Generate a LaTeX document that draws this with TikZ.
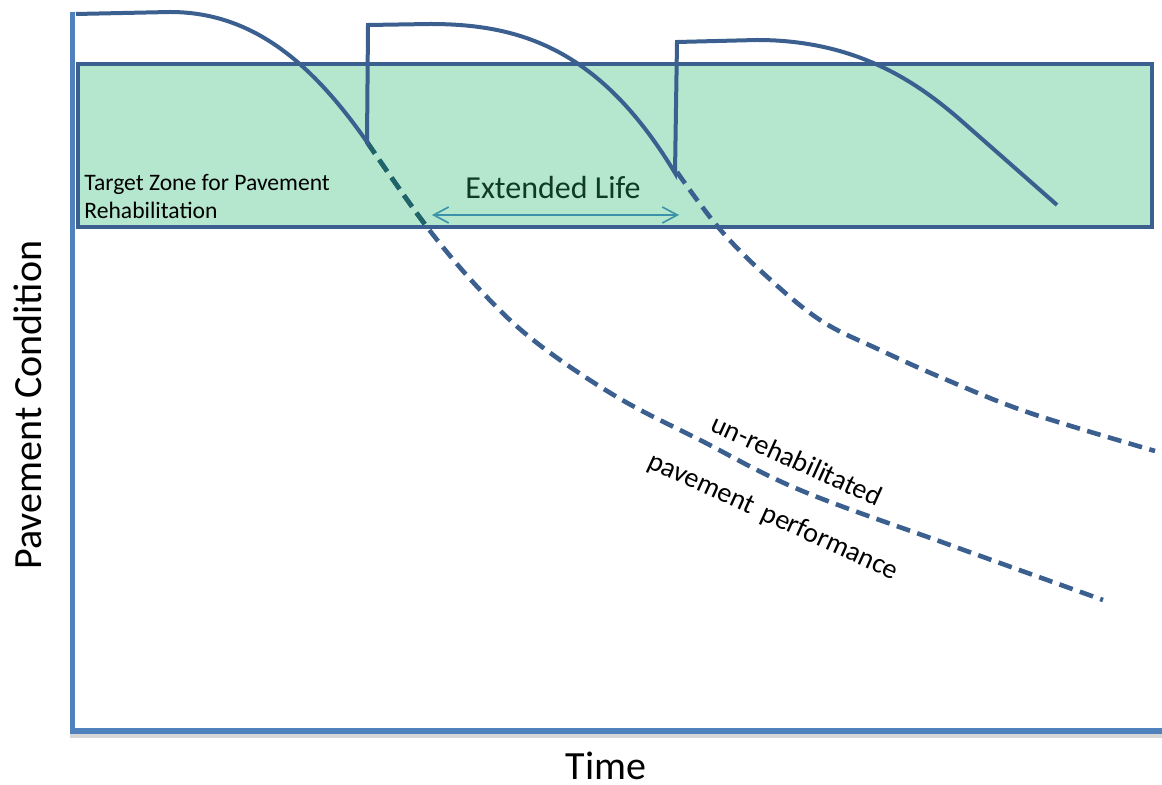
\documentclass[tikz,border=0pt]{standalone}
\usepackage{fontspec}
\setmainfont{Carlito}
\usetikzlibrary{arrows.meta}
\definecolor{axisblue}{HTML}{4F81BD}
\definecolor{lineblue}{HTML}{3B5F8E}
\definecolor{zonefill}{HTML}{B5E6CE}
\definecolor{dashteal}{HTML}{1F6468}
\definecolor{arrowteal}{HTML}{3A93A8}
\definecolor{lifegreen}{HTML}{0E3B22}
\tikzset{
  axisline/.style={draw=axisblue,line width=2.6pt},
  axisshadow/.style={draw=black!35,line width=2.6pt,opacity=0.45},
  perf/.style={draw=lineblue,line width=2pt,line join=miter},
  unrehab/.style={draw=lineblue,line width=2.3pt,dash pattern=on 7pt off 3.8pt},
  zonebox/.style={draw=lineblue,line width=2.2pt},
  lifearrow/.style={draw=arrowteal,line width=0.8pt,{Straight Barb[length=7.5pt,width=8pt]}-{Straight Barb[length=7.5pt,width=8pt]}},
  lbl/.style={inner sep=0pt,text=black}
}
\begin{document}
\begin{tikzpicture}[x=0.5pt,y=-0.5pt]
\useasboundingbox (0,0) rectangle (1162,785);
% zone fill
\fill[zonefill] (78,64) rectangle (1152,227);
% un-rehabilitated (dashed) curves
\def\dashone{plot[smooth,tension=0.6] coordinates {(367,142) (427,227) (483,293) (537,343) (617,397) (700,440) (800,490) (950,545) (1103,600)}}
\draw[unrehab] \dashone;
\begin{scope}
  \clip (78,64) rectangle (1152,227);
  \draw[unrehab,draw=dashteal] \dashone;
\end{scope}
\draw[unrehab] plot[smooth,tension=0.6] coordinates {(677,172) (718,227) (763,273) (820,320) (880,350) (947,380) (1030,413) (1155,451)};
% zone outline
\draw[zonebox] (78,64) rectangle (1152,227);
% axes
\draw[axisshadow] (70,735) -- (1162,735);
\draw[axisline] (72.5,12) -- (72.5,733.5);
\draw[axisline] (70,731) -- (1162,731);
% rehabilitated performance
\draw[perf] (76,14) -- (170,12) .. controls (250,12) and (310,60) .. (367,142)
  -- (368,25) -- (430,24) .. controls (520,24) and (600,48.5) .. (675,173)
  -- (677,42) -- (757,40) .. controls (857,40) and (917,83) .. (957,117) -- (1057,205);
% extended life
\coordinate (lifeL) at (432,215);
\coordinate (lifeR) at (679,215);
\draw[lifearrow] (lifeL) -- (lifeR);
\node[lbl,text=lifegreen,font=\fontsize{16}{19}\selectfont] (life) at (553,188) {Extended Life};
% texts
\node[lbl,anchor=west,align=left,font=\fontsize{11.8}{14}\selectfont] (zone) at (84,197) {Target Zone for Pavement\\Rehabilitation};
\node[lbl,rotate=-24.5,font=\fontsize{14}{17}\selectfont] (unr) at (797,460) {un-rehabilitated};
\node[lbl,rotate=-24.5,font=\fontsize{14}{17}\selectfont] (pp) at (773,517) {pavement\hspace{0.15em} performance};
\node[lbl,rotate=90,font=\fontsize{20}{24}\selectfont] (ylab) at (28,405) {Pavement Condition};
\node[lbl,font=\fontsize{20}{24}\selectfont] (xlab) at (606,766) {Time};
\end{tikzpicture}
\end{document}
